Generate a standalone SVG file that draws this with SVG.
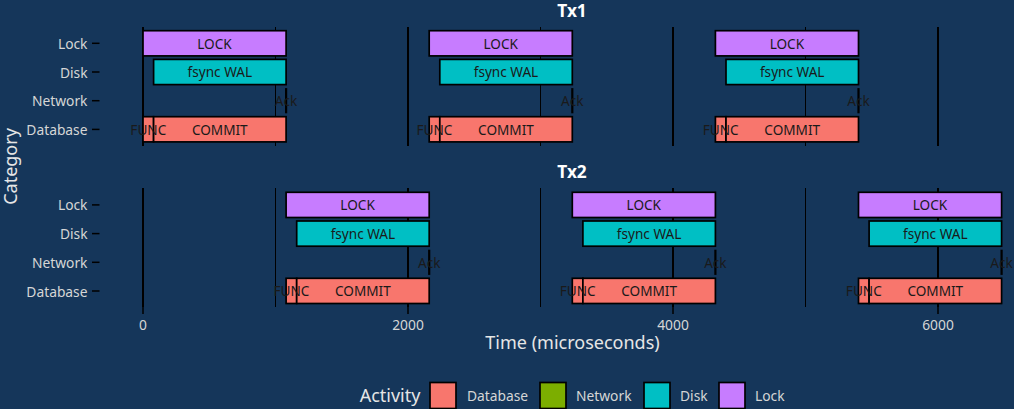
<svg xmlns="http://www.w3.org/2000/svg" width="1014" height="409" viewBox="0 0 1014 409">
<style>
text{font-family:"Noto Sans","Open Sans","DejaVu Sans",sans-serif}
.bg{fill:#15365a}
.gmaj{stroke:#000;stroke-width:2}
.gmin{stroke:#000;stroke-width:1}
.tick{stroke:#000;stroke-width:1.5}
.bar{stroke:#000;stroke-width:1.7}
.db{fill:#F8766D}.nw{fill:#7CAE00}.dk{fill:#00BFC4}.lk{fill:#C77CFF}
.ack{stroke:#000;stroke-width:2.2}
.lbl{font-size:13.6px;fill:#1a1a1a;text-anchor:middle;dominant-baseline:central}
.yt{font-size:13.8px;fill:#d6d6d6;text-anchor:end;dominant-baseline:central}
.xt{font-size:13.8px;fill:#d6d6d6;text-anchor:middle}
.ttl{font-size:17.3px;fill:#ffffff;font-weight:bold;text-anchor:middle}
.axt{font-size:18px;fill:#e6e6e6;text-anchor:middle}
.lgt{font-size:13.8px;fill:#d6d6d6;dominant-baseline:central}
</style>
<defs>
<g id="tx">
<rect class="bar lk" x="0" y="-12.6" width="143.1" height="25.2"/>
<rect class="bar dk" x="10.6" y="16.1" width="132.5" height="25.2"/>
<rect class="bar db" x="0" y="73.4" width="10.6" height="25.2"/>
<rect class="bar db" x="10.6" y="73.4" width="132.5" height="25.2"/>
<line class="ack" x1="143.1" y1="44.8" x2="143.1" y2="70"/>
<text class="lbl" x="71.5" y="0">LOCK</text>
<text class="lbl" x="76.8" y="28.7">fsync WAL</text>
<text class="lbl" x="143.1" y="57.4">Ack</text>
<text class="lbl" x="5.3" y="86">FUNC</text>
<text class="lbl" x="76.8" y="86">COMMIT</text>
</g>
</defs>
<rect class="bg" x="0" y="0" width="1014" height="409"/>
<g id="grid">
<line class="gmaj" x1="143" y1="27" x2="143" y2="146"/>
<line class="gmin" x1="275.5" y1="27" x2="275.5" y2="146"/>
<line class="gmaj" x1="408" y1="27" x2="408" y2="146"/>
<line class="gmin" x1="540.5" y1="27" x2="540.5" y2="146"/>
<line class="gmaj" x1="673" y1="27" x2="673" y2="146"/>
<line class="gmin" x1="805.5" y1="27" x2="805.5" y2="146"/>
<line class="gmaj" x1="938" y1="27" x2="938" y2="146"/>
<line class="gmaj" x1="143" y1="188" x2="143" y2="307"/>
<line class="gmin" x1="275.5" y1="188" x2="275.5" y2="307"/>
<line class="gmaj" x1="408" y1="188" x2="408" y2="307"/>
<line class="gmin" x1="540.5" y1="188" x2="540.5" y2="307"/>
<line class="gmaj" x1="673" y1="188" x2="673" y2="307"/>
<line class="gmin" x1="805.5" y1="188" x2="805.5" y2="307"/>
<line class="gmaj" x1="938" y1="188" x2="938" y2="307"/>
</g>
<g id="panel-tx1">
<text class="ttl" x="572" y="17">Tx1</text>
<g id="tx1-a"><use href="#tx" x="143" y="43.3"/></g>
<g id="tx1-b"><use href="#tx" x="429.2" y="43.3"/></g>
<g id="tx1-c"><use href="#tx" x="715.4" y="43.3"/></g>
</g>
<g id="panel-tx2">
<text class="ttl" x="572" y="178">Tx2</text>
<g id="tx2-a"><use href="#tx" x="286.1" y="204.9"/></g>
<g id="tx2-b"><use href="#tx" x="572.3" y="204.9"/></g>
<g id="tx2-c"><use href="#tx" x="858.5" y="204.9"/></g>
</g>
<g id="y-axis">
<line class="tick" x1="92" y1="43.3" x2="99.5" y2="43.3"/>
<line class="tick" x1="92" y1="72" x2="99.5" y2="72"/>
<line class="tick" x1="92" y1="100.7" x2="99.5" y2="100.7"/>
<line class="tick" x1="92" y1="129.4" x2="99.5" y2="129.4"/>
<line class="tick" x1="92" y1="204.9" x2="99.5" y2="204.9"/>
<line class="tick" x1="92" y1="233.6" x2="99.5" y2="233.6"/>
<line class="tick" x1="92" y1="262.3" x2="99.5" y2="262.3"/>
<line class="tick" x1="92" y1="291" x2="99.5" y2="291"/>
<text class="yt" x="87.5" y="43.3">Lock</text>
<text class="yt" x="87.5" y="72">Disk</text>
<text class="yt" x="87.5" y="100.7">Network</text>
<text class="yt" x="87.5" y="129.4">Database</text>
<text class="yt" x="87.5" y="204.9">Lock</text>
<text class="yt" x="87.5" y="233.6">Disk</text>
<text class="yt" x="87.5" y="262.3">Network</text>
<text class="yt" x="87.5" y="291">Database</text>
<text class="axt" x="0" y="0" transform="translate(17,166.5) rotate(-90)">Category</text>
</g>
<g id="x-axis">
<line class="tick" x1="143" y1="307" x2="143" y2="314"/>
<line class="tick" x1="408" y1="307" x2="408" y2="314"/>
<line class="tick" x1="673" y1="307" x2="673" y2="314"/>
<line class="tick" x1="938" y1="307" x2="938" y2="314"/>
<text class="xt" x="143" y="330">0</text>
<text class="xt" x="408" y="330">2000</text>
<text class="xt" x="673" y="330">4000</text>
<text class="xt" x="938" y="330">6000</text>
<text class="axt" x="572.5" y="349">Time (microseconds)</text>
</g>
<g id="legend">
<text class="axt" x="390" y="402">Activity</text>
<rect class="bar db" x="430" y="382.5" width="26" height="26"/>
<text class="lgt" x="467" y="395.5">Database</text>
<rect class="bar nw" x="540" y="382.5" width="26" height="26"/>
<text class="lgt" x="576" y="395.5">Network</text>
<rect class="bar dk" x="644" y="382.5" width="26" height="26"/>
<text class="lgt" x="680" y="395.5">Disk</text>
<rect class="bar lk" x="719" y="382.5" width="26" height="26"/>
<text class="lgt" x="755" y="395.5">Lock</text>
</g>
</svg>
